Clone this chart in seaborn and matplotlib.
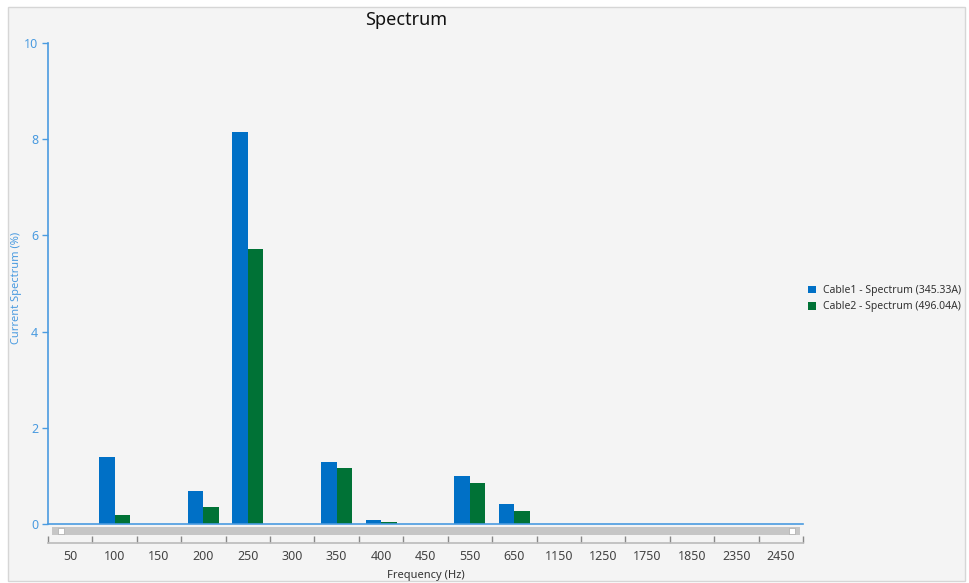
import pandas as pd
import numpy as np
import matplotlib.pyplot as plt
import seaborn as sns
from matplotlib.patches import Rectangle

# data
freq_labels = ['50', '100', '150', '200', '250', '300', '350', '400', '450',
               '550', '650', '1150', '1250', '1750', '1850', '2350', '2450']
cable1 = [0, 1.40, 0, 0.69, 8.16, 0, 1.28, 0.08, 0, 1.00, 0.41, 0, 0, 0, 0, 0, 0]
cable2 = [0, 0.18, 0, 0.35, 5.72, 0, 1.17, 0.035, 0, 0.85, 0.26, 0, 0, 0, 0, 0, 0]
series_names = ['Cable1 - Spectrum (345.33A)', 'Cable2 - Spectrum (496.04A)']
colors = ['#0070C6', '#007236']

df = pd.DataFrame({
    'Frequency': freq_labels * 2,
    'Value': cable1 + cable2,
    'Series': [series_names[0]] * len(freq_labels) + [series_names[1]] * len(freq_labels),
})

sns.set_theme(style='white')
plt.rcParams['font.family'] = ['Noto Sans', 'DejaVu Sans']

W, H = 969, 583
fig = plt.figure(figsize=(W / 100, H / 100), dpi=100, facecolor='white')

# light panel with a thin frame (behind everything)
fig.patches.append(Rectangle((8 / W, 1 - 581 / H), 957 / W, 574 / H, transform=fig.transFigure,
                             facecolor='#f4f4f4', edgecolor='#d6d6d6', lw=1, zorder=-5))

left, right, bottom, top = 48, 803, 524, 43
ax = fig.add_axes([left / W, 1 - bottom / H, (right - left) / W, (bottom - top) / H])
ax.set_facecolor('none')

sns.barplot(data=df, x='Frequency', y='Value', hue='Series', palette=colors,
            saturation=1, width=0.7, linewidth=0, ax=ax, legend=True)

axis_blue = '#4a9be0'
ax.set_ylim(0, 10)
ax.set_xlim(-0.5, len(freq_labels) - 0.5)
ax.set_yticks([0, 2, 4, 6, 8, 10])
ax.tick_params(axis='y', colors=axis_blue, labelsize=9, length=4, width=1, left=True, pad=3)
ax.set_ylabel('Current Spectrum (%)', color=axis_blue, fontsize=8)
ax.yaxis.set_label_coords(-0.034, 0.49)
ax.set_xlabel('')
ax.set_xticks([])
for s in ['top', 'right']:
    ax.spines[s].set_visible(False)
for s in ['left', 'bottom']:
    ax.spines[s].set_color(axis_blue)
    ax.spines[s].set_linewidth(1.2)

fig.text(406 / W, 1 - 20 / H, 'Spectrum', fontsize=13, color='#111111', ha='center', va='center')

leg = ax.legend(loc='center left', bbox_to_anchor=(1.0, 0.468), frameon=False,
                fontsize=7.5, handlelength=0.75, handleheight=0.75, handletextpad=0.7,
                labelspacing=0.5, borderaxespad=0.1)
for t in leg.get_texts():
    t.set_color('#333333')

# scroll bar under the plot
fig.patches.append(Rectangle((52 / W, 1 - 535 / H), 748 / W, 8 / H, transform=fig.transFigure,
                             facecolor='#c6c6c6', edgecolor='none', zorder=2))
for sx in (58, 789):
    fig.patches.append(Rectangle((sx / W, 1 - 534 / H), 6 / W, 6 / H, transform=fig.transFigure,
                                 facecolor='white', edgecolor='#aaaaaa', lw=0.5, zorder=3))

# category axis row below the scroll bar
ax2 = fig.add_axes([left / W, 1 - 543 / H, (right - left) / W, 0.001])
ax2.set_facecolor('none')
ax2.set_xlim(ax.get_xlim())
for s in ['top', 'right', 'left']:
    ax2.spines[s].set_visible(False)
ax2.spines['bottom'].set_color('#bdbdbd')
ax2.set_yticks([])
ax2.set_xticks(np.arange(len(freq_labels)))
ax2.set_xticklabels(freq_labels)
ax2.set_xticks(np.arange(len(freq_labels) + 1) - 0.5, minor=True)
ax2.tick_params(axis='x', which='major', length=0, labelsize=9, colors='#444444', pad=5)
ax2.tick_params(axis='x', which='minor', length=5, direction='in', color='#888888', bottom=True)
ax2.set_xlabel('Frequency (Hz)', fontsize=8, color='#333333', labelpad=5)

fig.savefig('out.png', dpi=100, facecolor=fig.get_facecolor())
